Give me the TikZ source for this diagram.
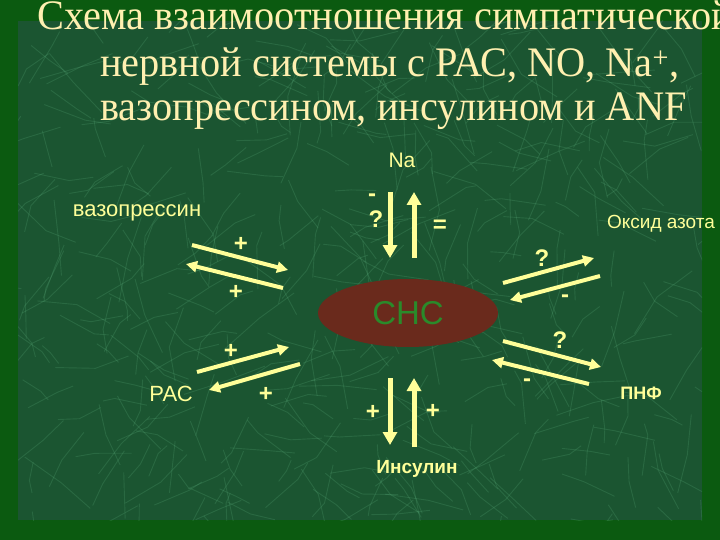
\documentclass[tikz,border=0pt]{standalone}
\usepackage{fontspec}
\setmainfont{Liberation Serif}
\setsansfont{Liberation Sans}
\newfontfamily\ttlfont[FakeStretch=0.96]{Liberation Serif}
\usetikzlibrary{arrows.meta,shapes.geometric}
\definecolor{framegreen}{HTML}{0B5A10}
\definecolor{marble}{HTML}{1B5531}
\definecolor{vein}{HTML}{5DB07E}
\definecolor{ttl}{HTML}{FFF0B0}
\definecolor{lbl}{HTML}{FFFF99}
\definecolor{snsfill}{HTML}{6A2A1C}
\definecolor{snstxt}{HTML}{2A8A2A}
\begin{document}
\begin{tikzpicture}[x=1pt,y=-1pt,
  arr/.style={draw=lbl,line width=4pt,-{Triangle[length=11pt,width=11pt]}},
  varr/.style={draw=lbl,line width=5pt,-{Triangle[length=13pt,width=14pt]}},
  lab/.style={text=lbl,font=\sffamily\fontsize{22}{24}\selectfont,inner sep=0pt},
  blab/.style={text=lbl,font=\sffamily\bfseries\fontsize{19}{21}\selectfont,inner sep=0pt},
  sgn/.style={text=lbl,font=\sffamily\bfseries\fontsize{24}{26}\selectfont,inner sep=0pt},
  ttlst/.style={text=ttl,font=\ttlfont\fontsize{42}{44}\selectfont,inner sep=0pt,anchor=base west}]
\useasboundingbox (0,0) rectangle (720,540);
\clip (0,0) rectangle (720,540);
\fill[framegreen] (0,0) rectangle (720,540);
\fill[marble] (18,21) rectangle (702,520);
\begin{scope}
\clip (18,21) rectangle (702,520);
\pgfmathsetseed{7}
\foreach \i in {1,...,420}{
  \pgfmathsetmacro\xa{18+rnd*684}
  \pgfmathsetmacro\ya{21+rnd*499}
  \pgfmathsetmacro\ang{rnd*360}
  \pgfmathsetmacro\angb{\ang+rnd*60-30}
  \pgfmathsetmacro\len{10+rnd*35}
  \pgfmathsetmacro\lenb{10+rnd*35}
  \draw[vein,opacity=.22,line width=.9pt] (\xa,\ya) -- ++(\ang:\len) -- ++(\angb:\lenb);
}
\end{scope}
% title
\node[ttlst] (t1) at (37,30) {Схема взаимоотношения симпатической};
\node[ttlst] (t2) at (100,77) {нервной системы с РАС, NO, Na\textsuperscript{+},};
\node[ttlst] (t3) at (100,121) {вазопрессином, инсулином и ANF};
% centre
\node[ellipse,fill=snsfill,minimum width=180pt,minimum height=68pt,inner sep=0pt,
  text=snstxt,font=\sffamily\fontsize{33}{33}\selectfont] (sns) at (408,313) {СНС};
% labels
\node[lab] (vaso) at (137,213) {вазопрессин};
\node[lab,font=\sffamily\fontsize{21}{23}\selectfont] (na) at (402,160) {Na};
\node[lab,font=\sffamily\fontsize{19}{21}\selectfont] (no) at (661,224) {Оксид азота};
\node[lab] (ras) at (171,394) {РАС};
\node[blab,font=\sffamily\bfseries\fontsize{18}{20}\selectfont] (anf) at (641,393) {ПНФ};
\node[blab] (ins) at (417,469) {Инсулин};
% Na arrows
\coordinate (na1) at (390,192); \coordinate (na2) at (390,258);
\coordinate (na3) at (414,258); \coordinate (na4) at (414,192);
\draw[varr] (na1) -- (na2);
\draw[varr] (na3) -- (na4);
\node[sgn] (s1) at (372,198) {-};
\node[sgn] (s2) at (376,219) {?};
\node[sgn] (s3) at (440,226) {=};
% vasopressin arrows
\coordinate (v1) at (192,245); \coordinate (v2) at (288,270);
\coordinate (v3) at (283,288); \coordinate (v4) at (186,264);
\draw[arr] (v1) -- (v2);
\draw[arr] (v3) -- (v4);
\node[sgn] (s4) at (241,244) {+};
\node[sgn] (s5) at (236,292) {+};
% NO arrows
\coordinate (n1) at (503,283); \coordinate (n2) at (594,258);
\coordinate (n3) at (600,276); \coordinate (n4) at (510,300);
\draw[arr] (n1) -- (n2);
\draw[arr] (n3) -- (n4);
\node[sgn] (s6) at (542,258) {?};
\node[sgn] (s7) at (565,299) {-};
% ANF arrows
\coordinate (a1) at (503,341); \coordinate (a2) at (601,367);
\coordinate (a3) at (589,384); \coordinate (a4) at (492,360);
\draw[arr] (a1) -- (a2);
\draw[arr] (a3) -- (a4);
\node[sgn] (s8) at (560,340) {?};
\node[sgn] (s9) at (527,383) {-};
% RAS arrows
\coordinate (r1) at (197,372); \coordinate (r2) at (289,347);
\coordinate (r3) at (300,364); \coordinate (r4) at (209,390);
\draw[arr] (r1) -- (r2);
\draw[arr] (r3) -- (r4);
\node[sgn] (s10) at (231,351) {+};
\node[sgn] (s11) at (266,394) {+};
% insulin arrows
\coordinate (i1) at (390,378); \coordinate (i2) at (390,445);
\coordinate (i3) at (414,447); \coordinate (i4) at (414,378);
\draw[varr] (i1) -- (i2);
\draw[varr] (i3) -- (i4);
\node[sgn] (s12) at (373,412) {+};
\node[sgn] (s13) at (433,411) {+};
\end{tikzpicture}
\end{document}
